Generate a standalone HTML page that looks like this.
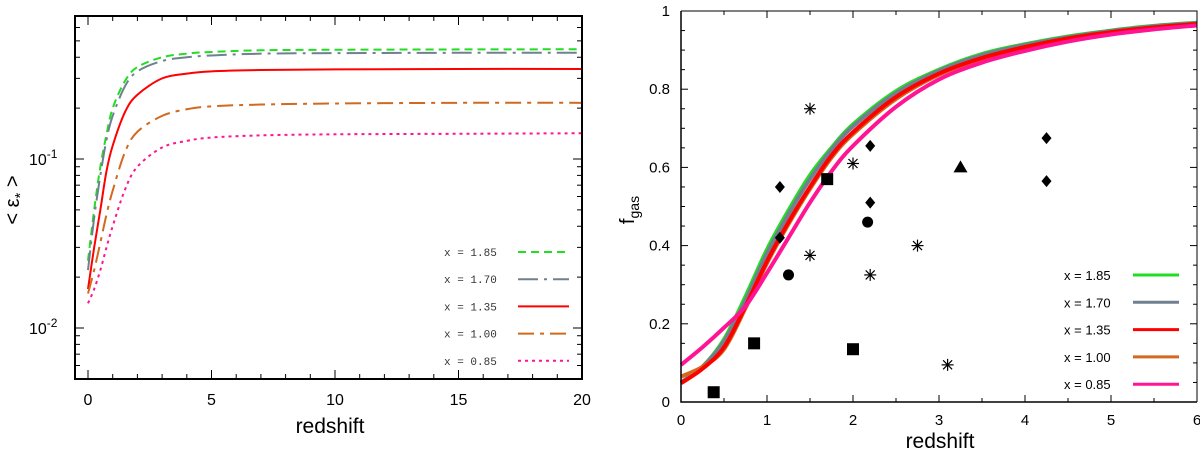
<!DOCTYPE html>
<html><head><meta charset="utf-8"><style>
html,body{margin:0;padding:0;background:#fff;width:1200px;height:455px;overflow:hidden}
svg{display:block;font-family:"Liberation Sans",sans-serif}
</style></head><body>
<svg id="c" width="1200" height="455" viewBox="0 0 1200 455">
<g id="left"></g>
<g id="right"></g>
</svg>
<script>
const NS="http://www.w3.org/2000/svg";
// ---- left panel data ----
const zL=[0,0.25,0.5,0.75,1,1.5,2,3,4,5,7,10,15,20];
const epsGreen=[0.025,0.05,0.09,0.14,0.2,0.29,0.35,0.40,0.42,0.43,0.44,0.443,0.445,0.446];
const epsGray=[0.022,0.045,0.08,0.13,0.18,0.27,0.33,0.38,0.40,0.41,0.42,0.423,0.425,0.425];
const epsRed=[0.017,0.03,0.05,0.085,0.12,0.19,0.24,0.30,0.32,0.33,0.336,0.339,0.341,0.341];
const epsOrange=[0.016,0.022,0.032,0.047,0.065,0.11,0.145,0.18,0.197,0.205,0.21,0.213,0.215,0.215];
const epsPink=[0.014,0.017,0.022,0.03,0.04,0.066,0.09,0.117,0.128,0.134,0.138,0.14,0.141,0.142];
const xTicksL=[0,5,10,15,20];
const legL=["x = 1.85","x = 1.70","x = 1.35","x = 1.00","x = 0.85"];
// ---- right panel data ----
const zR=[0,0.25,0.5,0.75,1,1.25,1.5,1.75,2,2.5,3,3.5,4,4.5,5,5.5,6];
const fGreen=[0.05,0.09,0.16,0.27,0.39,0.49,0.58,0.65,0.71,0.795,0.85,0.89,0.915,0.935,0.95,0.962,0.97];
const fGray=[0.05,0.09,0.155,0.26,0.38,0.48,0.57,0.645,0.705,0.79,0.847,0.887,0.913,0.933,0.949,0.961,0.969];
const fRed=[0.048,0.085,0.14,0.245,0.36,0.46,0.55,0.63,0.69,0.78,0.84,0.88,0.908,0.93,0.946,0.958,0.967];
const fOrange=[0.065,0.09,0.135,0.24,0.355,0.455,0.545,0.625,0.685,0.775,0.837,0.878,0.906,0.928,0.945,0.957,0.966];
const fPink=[0.095,0.14,0.19,0.245,0.33,0.42,0.51,0.59,0.655,0.755,0.825,0.868,0.898,0.922,0.94,0.953,0.963];
const sqZ=[0.38,0.85,1.7,2.0], sqF=[0.025,0.15,0.57,0.135];
const diZ=[1.15,1.15,2.2,2.2,4.25,4.25], diF=[0.55,0.42,0.655,0.51,0.675,0.565];
const ciZ=[1.25,2.17], ciF=[0.325,0.46];
const asZ=[1.5,1.5,2.0,2.2,2.75,3.1], asF=[0.75,0.375,0.61,0.325,0.40,0.095];
const trZ=[3.25], trF=[0.60];
const xTicksR=[0,1,2,3,4,5,6];
const yTicksR=[0,0.2,0.4,0.6,0.8,1];
const colors=["#22dd22","#708090","#ff0000","#d2691e","#ff1493"];

function el(p,t,a){const e=document.createElementNS(NS,t);for(const k in a)e.setAttribute(k,a[k]);p.appendChild(e);return e;}
function smooth(P){let d='M'+P[0][0]+','+P[0][1];
 for(let i=0;i<P.length-1;i++){const p0=P[Math.max(0,i-1)],p1=P[i],p2=P[i+1],p3=P[Math.min(P.length-1,i+2)];
  const c1x=p1[0]+(p2[0]-p0[0])/6,c1y=p1[1]+(p2[1]-p0[1])/6,c2x=p2[0]-(p3[0]-p1[0])/6,c2y=p2[1]-(p3[1]-p1[1])/6;
  d+=` C${c1x},${c1y} ${c2x},${c2y} ${p2[0]},${p2[1]}`;}return d;}

// LEFT
const L=document.getElementById('left');
const lx0=75,lx1=582,ly0=16,ly1=379;
const xL=z=>88+z*(582-88)/20;
const yL=v=>159-(Math.log10(v)+1)*169;
for(let z=0;z<=20;z++){const big=z%5===0;const len=big?9:5;
 el(L,'line',{x1:xL(z),x2:xL(z),y1:ly1,y2:ly1-len,stroke:'#000','stroke-width':1});
 el(L,'line',{x1:xL(z),x2:xL(z),y1:ly0,y2:ly0+len,stroke:'#000','stroke-width':1});}
for(let d=-3;d<=0;d++)for(let m=1;m<10;m++){const v=m*Math.pow(10,d);const y=yL(v);if(y<ly0||y>ly1)continue;const len=m===1?9:5;
 el(L,'line',{x1:lx0,x2:lx0+len,y1:y,y2:y,stroke:'#000'});el(L,'line',{x1:lx1,x2:lx1-len,y1:y,y2:y,stroke:'#000'});}
xTicksL.forEach(z=>{const t=el(L,'text',{x:xL(z),y:405,'text-anchor':'middle','font-size':16});t.textContent=z;
 });
[[-1,159],[-2,328]].forEach(([p,y])=>{const t=el(L,'text',{x:29,y:y+6,'font-size':16});t.innerHTML='10<tspan dy="-7" font-size="12">'+p+'</tspan>';
 });
const lsty=[{d:'8,5',w:2},{d:'20,6,3,6',w:2},{d:'',w:2},{d:'16,6,4,6',w:2},{d:'3,4',w:2}];
const seriesL=[epsGreen,epsGray,epsRed,epsOrange,epsPink];
seriesL.forEach((s,i)=>{const P=zL.map((z,j)=>[xL(z),yL(s[j])]);
 const p=el(L,'path',{d:smooth(P),fill:'none',stroke:colors[i],'stroke-width':lsty[i].w,'stroke-dasharray':lsty[i].d});
 
 const ly=252+i*27.2;
 const t=el(L,'text',{x:444,y:ly+4,'font-size':11,'font-family':'Liberation Mono, monospace',fill:'#333'});t.textContent=legL[i];
 
 const ln=el(L,'line',{x1:518,x2:569,y1:ly,y2:ly,stroke:colors[i],'stroke-width':2,'stroke-dasharray':lsty[i].d});
 });
el(L,'rect',{x:lx0,y:ly0,width:lx1-lx0,height:ly1-ly0,fill:'none',stroke:'#000','stroke-width':2});
const xtl=el(L,'text',{x:330,y:433,'text-anchor':'middle','font-size':21});xtl.textContent='redshift';

const ytl=el(L,'text',{x:0,y:0,'text-anchor':'middle','font-size':20,transform:'translate(19,200) rotate(-90)'});
ytl.innerHTML='&lt; ε<tspan dy="6" font-size="15">*</tspan><tspan dy="-6"> &gt;</tspan>';


// RIGHT
const R=document.getElementById('right');
const rx0=681,rx1=1197,ry0=11,ry1=402;
const xR=z=>rx0+z*(rx1-rx0)/6;
const yR=f=>ry1-f*(ry1-ry0);
for(let k=0;k<=12;k++){const z=k/2;const len=k%2?4:7;
 el(R,'line',{x1:xR(z),x2:xR(z),y1:ry1,y2:ry1-len,stroke:'#000'});el(R,'line',{x1:xR(z),x2:xR(z),y1:ry0,y2:ry0+len,stroke:'#000'});}
for(let k=0;k<=20;k++){const f=k/20;const len=k%4?4:7;
 el(R,'line',{x1:rx0,x2:rx0+len,y1:yR(f),y2:yR(f),stroke:'#000'});el(R,'line',{x1:rx1,x2:rx1-len,y1:yR(f),y2:yR(f),stroke:'#000'});}
xTicksR.forEach(z=>{const t=el(R,'text',{x:xR(z),y:425,'text-anchor':'middle','font-size':15});t.textContent=z;
 });
yTicksR.forEach(f=>{const t=el(R,'text',{x:670,y:yR(f)+5,'text-anchor':'end','font-size':15});t.textContent=f;
 });
const seriesR=[fGreen,fGray,fOrange,fRed,fPink];const colR=[colors[0],colors[1],colors[3],colors[2],colors[4]];
seriesR.forEach((s,i)=>{const P=zR.map((z,j)=>[xR(z),yR(s[j])]);
 const p=el(R,'path',{d:smooth(P),fill:'none',stroke:colR[i],'stroke-width':4,'stroke-linejoin':'round'});
 });
legL.forEach((lab,i)=>{const ly=275+i*27.3;
 const t=el(R,'text',{x:1064,y:ly+5,'font-size':13});t.textContent=lab;
 
 const ln=el(R,'line',{x1:1133,x2:1179,y1:ly,y2:ly,stroke:colors[i],'stroke-width':3});
 });
sqZ.forEach((z,i)=>{const m=el(R,'rect',{x:xR(z)-6,y:yR(sqF[i])-6,width:12,height:12,fill:'#000'});
 });
diZ.forEach((z,i)=>{const x=xR(z),y=yR(diF[i]);const m=el(R,'polygon',{points:`${x},${y-6} ${x+5},${y} ${x},${y+6} ${x-5},${y}`,fill:'#000'});
 });
ciZ.forEach((z,i)=>{const m=el(R,'circle',{cx:xR(z),cy:yR(ciF[i]),r:5.5,fill:'#000'});
 });
asZ.forEach((z,i)=>{const x=xR(z),y=yR(asF[i]);const g=el(R,'g',{stroke:'#000','stroke-width':1.2});
 el(g,'line',{x1:x-6,x2:x+6,y1:y,y2:y});el(g,'line',{x1:x,x2:x,y1:y-6,y2:y+6});
 el(g,'line',{x1:x-4.5,x2:x+4.5,y1:y-4.5,y2:y+4.5});el(g,'line',{x1:x-4.5,x2:x+4.5,y1:y+4.5,y2:y-4.5});
 });
trZ.forEach((z,i)=>{const x=xR(z),y=yR(trF[i]);const m=el(R,'polygon',{points:`${x},${y-7} ${x+7},${y+5} ${x-7},${y+5}`,fill:'#000'});
 });
el(R,'polyline',{points:`${rx0},${ry0} ${rx0},${ry1} ${rx1},${ry1}`,fill:'none',stroke:'#000','stroke-width':1.5});
el(R,'polyline',{points:`${rx0},${ry0} ${rx1},${ry0} ${rx1},${ry1}`,fill:'none',stroke:'#000','stroke-width':1});
const xtr=el(R,'text',{x:940,y:448,'text-anchor':'middle','font-size':21});xtr.textContent='redshift';

const ytr=el(R,'text',{x:0,y:0,'text-anchor':'middle','font-size':20,transform:'translate(634,210) rotate(-90)'});
ytr.innerHTML='f<tspan dy="5" font-size="14">gas</tspan>';

</script>
</body></html>
